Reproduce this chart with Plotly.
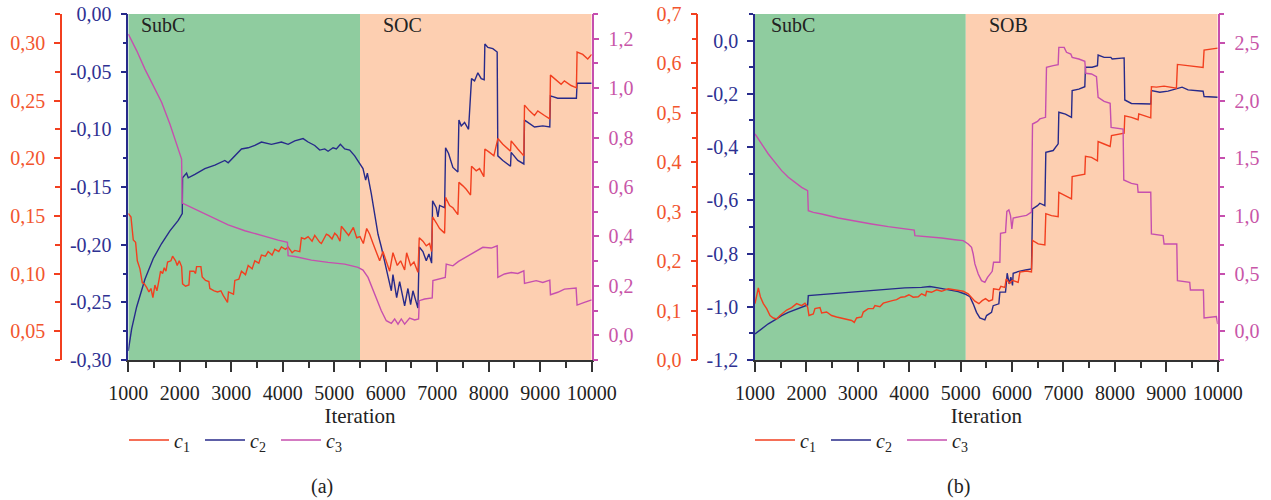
import plotly.graph_objects as go

# ---------------- data: panel (a) ----------------
xa1 = [1000,1052,1097,1142,1175,1226,1272,1310,1356,1401,
       1440,1478,1517,1556,1595,1627,1666,1698,1731,1763,
       1828,1860,1918,1950,1989,2035,2054,2112,2177,2196,
       2274,2306,2326,2410,2435,2500,2565,2584,2668,2733,
       2798,2843,2927,2946,3043,3069,3147,3198,3276,3328,
       3405,3457,3535,3586,3664,3716,3793,3845,3923,3974,
       4052,4104,4181,4233,4330,4362,4427,4492,4569,4621,
       4718,4750,4847,4893,4957,5009,5054,5112,5138,5203,
       5280,5371,5436,5500,5565,5630,5688,5753,5817,5882,
       5946,6011,6076,6140,6224,6289,6367,6406,6483,6548,
       6625,6651,6722,6787,6852,6891,6910,6981,7046,7143,
       7162,7240,7304,7401,7421,7498,7563,7647,7666,7757,
       7822,7906,7925,8016,8100,8177,8274,8423,8436,8565,
       8682,8695,8792,8889,8953,9083,9186,9199,9309,9406,
       9470,9600,9703,9716,9826,9923,10000]
c1a = [0.152,0.149,0.129,0.127,0.111,0.104,0.092,0.091,0.088,0.084,
       0.087,0.079,0.090,0.085,0.094,0.102,0.100,0.105,0.102,0.110,
       0.111,0.115,0.111,0.107,0.111,0.106,0.091,0.089,0.090,0.102,
       0.102,0.100,0.106,0.106,0.097,0.094,0.093,0.087,0.085,0.084,
       0.085,0.081,0.075,0.084,0.082,0.094,0.095,0.102,0.099,0.107,
       0.104,0.111,0.109,0.116,0.115,0.119,0.116,0.121,0.119,0.123,
       0.121,0.123,0.118,0.120,0.119,0.131,0.130,0.132,0.128,0.133,
       0.127,0.126,0.134,0.133,0.130,0.135,0.133,0.128,0.141,0.137,
       0.133,0.140,0.131,0.132,0.126,0.139,0.134,0.126,0.118,0.111,
       0.119,0.110,0.102,0.118,0.107,0.111,0.103,0.118,0.107,0.110,
       0.101,0.131,0.128,0.124,0.126,0.119,0.149,0.144,0.139,0.135,
       0.166,0.159,0.157,0.151,0.179,0.176,0.173,0.168,0.193,0.189,
       0.191,0.184,0.208,0.205,0.202,0.217,0.212,0.206,0.215,0.208,
       0.202,0.246,0.241,0.237,0.241,0.237,0.234,0.272,0.268,0.264,
       0.267,0.263,0.261,0.292,0.290,0.286,0.290]

xa2 = [1000,1065,1162,1323,1485,1647,1808,1970,2048,2054,
       2132,2164,2293,2487,2681,2875,2940,3069,3198,3328,
       3457,3586,3780,3974,4104,4233,4395,4492,4621,4718,
       4815,4880,4977,5041,5119,5203,5300,5397,5494,5558,
       5610,5643,5720,5785,5850,5914,5979,6043,6108,6140,
       6212,6270,6367,6431,6483,6528,6625,6651,6722,6787,
       6839,6891,6910,6981,7013,7046,7143,7162,7220,7304,
       7401,7421,7466,7531,7608,7666,7725,7789,7854,7912,
       7925,7983,8080,8164,8177,8274,8423,8436,8565,8682,
       8695,8760,8889,9050,9186,9199,9341,9535,9703,9716,
       10000]
c2a = [-0.292,-0.273,-0.254,-0.230,-0.212,-0.199,-0.188,-0.179,-0.173,-0.142,
       -0.138,-0.142,-0.139,-0.134,-0.131,-0.127,-0.129,-0.123,-0.117,-0.116,
       -0.114,-0.111,-0.113,-0.111,-0.113,-0.110,-0.108,-0.111,-0.114,-0.118,
       -0.117,-0.119,-0.116,-0.117,-0.113,-0.117,-0.118,-0.123,-0.130,-0.134,
       -0.144,-0.138,-0.156,-0.173,-0.191,-0.202,-0.214,-0.228,-0.240,-0.226,
       -0.246,-0.232,-0.253,-0.238,-0.252,-0.240,-0.255,-0.202,-0.206,-0.214,
       -0.208,-0.216,-0.162,-0.168,-0.176,-0.166,-0.168,-0.116,-0.121,-0.133,
       -0.137,-0.092,-0.097,-0.094,-0.100,-0.056,-0.058,-0.051,-0.056,-0.057,
       -0.026,-0.029,-0.030,-0.033,-0.123,-0.127,-0.132,-0.120,-0.127,-0.130,
       -0.092,-0.094,-0.098,-0.097,-0.098,-0.071,-0.073,-0.073,-0.073,-0.060,
       -0.060]

xa3 = [1000,1162,1323,1485,1647,1808,1970,2035,2048,2293,
       2617,2940,3263,3586,3910,4091,4104,4233,4556,4880,
       5203,5462,5558,5656,5785,5914,6011,6108,6173,6238,
       6302,6367,6464,6561,6638,6651,6755,6852,6903,6916,
       7046,7156,7175,7304,7414,7595,7757,7886,8048,8164,
       8177,8307,8436,8565,8682,8695,8921,9050,9186,9199,
       9341,9470,9697,9716,9858,10000]
c3a = [1.219,1.152,1.077,1.010,0.943,0.855,0.754,0.713,0.535,0.511,
       0.477,0.447,0.423,0.403,0.385,0.376,0.322,0.319,0.304,0.295,
       0.288,0.275,0.264,0.234,0.167,0.099,0.059,0.048,0.066,0.045,
       0.066,0.045,0.070,0.062,0.066,0.140,0.147,0.151,0.151,0.221,
       0.228,0.234,0.288,0.281,0.299,0.322,0.340,0.356,0.353,0.362,
       0.234,0.248,0.254,0.250,0.261,0.210,0.221,0.214,0.223,0.164,
       0.174,0.187,0.191,0.122,0.133,0.143]

# ---------------- data: panel (b) ----------------
xb1 = [1000,1065,1104,1162,1227,1292,1356,1421,1486,1551,
       1616,1713,1810,1907,1972,2024,2050,2134,2166,2264,
       2296,2393,2490,2588,2685,2782,2879,2931,2976,3074,
       3106,3203,3300,3333,3430,3495,3592,3670,3754,3838,
       3916,3994,4078,4175,4240,4318,4337,4434,4532,4629,
       4758,4888,5050,5147,5212,5277,5355,5419,5484,5549,
       5620,5640,5750,5782,5860,5886,5957,6003,6119,6152,
       6281,6378,6398,6508,6638,6657,6767,6897,6910,7026,
       7156,7169,7286,7415,7428,7545,7661,7674,7791,7908,
       7934,8063,8180,8193,8322,8452,8465,8582,8698,8711,
       8808,8957,9197,9217,9359,9489,9716,9735,9878,10000]
c1b = [0.114,0.146,0.128,0.114,0.104,0.090,0.085,0.083,0.090,0.095,
       0.101,0.106,0.114,0.110,0.115,0.107,0.090,0.093,0.104,0.106,
       0.095,0.097,0.090,0.087,0.085,0.083,0.080,0.076,0.085,0.087,
       0.097,0.104,0.104,0.110,0.108,0.115,0.117,0.120,0.122,0.127,
       0.128,0.132,0.127,0.128,0.134,0.130,0.139,0.137,0.142,0.139,
       0.144,0.142,0.139,0.134,0.126,0.119,0.114,0.120,0.124,0.119,
       0.122,0.144,0.142,0.149,0.147,0.164,0.155,0.161,0.157,0.178,
       0.180,0.178,0.242,0.235,0.233,0.296,0.292,0.290,0.339,0.333,
       0.326,0.371,0.373,0.376,0.412,0.410,0.403,0.442,0.437,0.432,
       0.454,0.457,0.459,0.494,0.491,0.486,0.498,0.494,0.490,0.553,
       0.552,0.554,0.550,0.598,0.596,0.594,0.592,0.627,0.629,0.631]

xb2 = [1000,1130,1259,1389,1518,1648,1778,1907,2024,2037,
       2296,2620,2944,3268,3592,3916,4240,4402,4564,4758,
       4953,5082,5180,5244,5309,5374,5471,5504,5601,5633,
       5743,5763,5873,5905,5944,5977,6009,6022,6132,6262,
       6378,6398,6495,6540,6638,6657,6800,6897,6910,7039,
       7156,7169,7299,7415,7428,7558,7661,7674,7791,7921,
       7947,8180,8193,8322,8484,8698,8711,8873,9035,9197,
       9307,9424,9716,9735,10000]
c2b = [-1.102,-1.083,-1.064,-1.049,-1.033,-1.021,-1.011,-1.002,-0.993,-0.958,
       -0.954,-0.949,-0.943,-0.937,-0.932,-0.929,-0.927,-0.924,-0.929,-0.937,
       -0.943,-0.952,-0.962,-0.989,-1.021,-1.042,-1.049,-1.033,-1.021,-0.996,
       -0.989,-0.945,-0.945,-0.874,-0.914,-0.889,-0.920,-0.874,-0.867,-0.862,
       -0.858,-0.632,-0.620,-0.611,-0.620,-0.420,-0.413,-0.388,-0.269,-0.276,
       -0.288,-0.188,-0.182,-0.173,-0.100,-0.100,-0.094,-0.054,-0.063,-0.063,
       -0.069,-0.065,-0.223,-0.236,-0.238,-0.238,-0.188,-0.194,-0.190,-0.182,
       -0.175,-0.185,-0.190,-0.210,-0.213]

xb3 = [1000,1130,1259,1389,1518,1648,1778,1907,2024,2037,
       2134,2296,2620,2944,3268,3592,3916,4097,4110,4370,
       4629,4888,5050,5147,5212,5244,5277,5342,5406,5471,
       5523,5614,5640,5763,5776,5873,5899,5938,5970,5996,
       6022,6152,6281,6378,6398,6495,6540,6651,6670,6800,
       6897,6910,7013,7059,7143,7169,7299,7415,7435,7545,
       7642,7674,7791,7908,7927,8160,8173,8322,8439,8452,
       8698,8711,8938,8957,9204,9217,9456,9469,9722,9735,
       9975,10000]
c3b = [1.710,1.623,1.536,1.464,1.392,1.334,1.291,1.247,1.218,1.045,
       1.030,1.016,0.981,0.952,0.929,0.906,0.886,0.877,0.828,0.819,
       0.808,0.793,0.785,0.756,0.727,0.669,0.583,0.496,0.438,0.424,
       0.467,0.519,0.597,0.597,0.848,0.857,1.039,1.051,1.002,0.886,
       0.981,0.993,1.004,1.033,1.796,1.819,1.840,1.854,2.288,2.302,
       2.311,2.461,2.461,2.418,2.403,2.374,2.360,2.340,2.236,2.230,
       2.207,2.028,1.993,1.975,1.767,1.753,1.311,1.282,1.270,1.204,
       1.204,0.843,0.828,0.756,0.756,0.438,0.424,0.357,0.357,0.114,
       0.126,0.062]

for xs, ys in [(xa1, c1a), (xa2, c2a), (xa3, c3a), (xb1, c1b), (xb2, c2b), (xb3, c3b)]:
    assert len(xs) == len(ys), (len(xs), len(ys))

# phases
phase_a = [1000, 5500, 10000]
phase_b = [1000, 5100, 10000]
phase_names_a = ["SubC", "SOC"]
phase_names_b = ["SubC", "SOB"]
phase_label_x_a = [1680, 6330]
phase_label_x_b = [1740, 5940]

series_names = ["<i>c</i><sub>1</sub>", "<i>c</i><sub>2</sub>", "<i>c</i><sub>3</sub>"]
blue_ticks_a = [-0.30, -0.25, -0.20, -0.15, -0.10, -0.05, 0.0]
blue_text_a = ["-0,30", "-0,25", "-0,20", "-0,15", "-0,10", "-0,05", "0,00"]
blue_ticks_b = [-1.2, -1.0, -0.8, -0.6, -0.4, -0.2, 0.0]
blue_text_b = ["-1,2", "-1,0", "-0,8", "-0,6", "-0,4", "-0,2", "0,0"]

# ---------------- style ----------------
W, H = 1271, 500
TOP, BOT = 14, 360          # plot area top / bottom in pixels
RED = "#f23f1f"
BLUE = "#272a8a"
MAG = "#c64fae"
RED_T = "#f2552e"
BLUE_T = "#2e3192"
MAG_T = "#c856a8"
GREEN_BG = "#8fcc9f"
ORANGE_BG = "#fdcfb1"
AX = "#333333"
FONT = "Liberation Serif, Times New Roman, serif"

def fx(p):
    return p / W

def fy(p):
    return (BOT - p) / (BOT - TOP)

XDOM_A = [fx(128.3), fx(591.7)]
XDOM_B = [fx(755), fx(1217.7)]

fig = go.Figure()
lw = 1.4
fig.add_trace(go.Scatter(x=xa1, y=c1a, xaxis="x", yaxis="y2", mode="lines",
                         line=dict(color=RED, width=lw), name=series_names[0], legend="legend"))
fig.add_trace(go.Scatter(x=xa2, y=c2a, xaxis="x", yaxis="y", mode="lines",
                         line=dict(color=BLUE, width=lw), name=series_names[1], legend="legend"))
fig.add_trace(go.Scatter(x=xa3, y=c3a, xaxis="x", yaxis="y3", mode="lines",
                         line=dict(color=MAG, width=lw), name=series_names[2], legend="legend"))
fig.add_trace(go.Scatter(x=xb1, y=c1b, xaxis="x2", yaxis="y5", mode="lines",
                         line=dict(color=RED, width=lw), name=series_names[0], legend="legend2"))
fig.add_trace(go.Scatter(x=xb2, y=c2b, xaxis="x2", yaxis="y4", mode="lines",
                         line=dict(color=BLUE, width=lw), name=series_names[1], legend="legend2"))
fig.add_trace(go.Scatter(x=xb3, y=c3b, xaxis="x2", yaxis="y6", mode="lines",
                         line=dict(color=MAG, width=lw), name=series_names[2], legend="legend2"))

def xaxis(domain, anchor):
    return dict(domain=domain, anchor=anchor, range=[1000, 10000], showgrid=False, zeroline=False,
                automargin=False,
                showline=True, linecolor=AX, linewidth=1.5,
                ticks="outside", ticklen=10, tickwidth=1.5, tickcolor=AX,
                tick0=1000, dtick=1000, tickformat="d", ticklabelstandoff=4,
                minor=dict(tick0=1000, dtick=500, ticks="outside", ticklen=6, tickwidth=1.5, tickcolor=AX, showgrid=False),
                tickfont=dict(family=FONT, size=20, color="#222"),
                title=dict(text="Iteration", font=dict(family=FONT, size=21, color="#222"), standoff=5))

def yax(color, tcolor, rng, **kw):
    d = dict(range=rng, showgrid=False, zeroline=False, showline=True, linecolor=color, linewidth=1.5,
             automargin=False, ticks="outside", ticklen=6, tickwidth=1.5, tickcolor=color,
             ticklabelstandoff=5,
             tickfont=dict(family=FONT, size=20, color=tcolor))
    d.update(kw)
    return d

def inner_ticks(color, rng, overlay, anchor, vals, minor_dtick):
    # second copy of the blue axis drawing the inner half of its crossing ticks
    return dict(range=rng, overlaying=overlay, anchor=anchor, side="left", showgrid=False, zeroline=False,
                showline=False, automargin=False, showticklabels=False,
                tickmode="array", tickvals=vals, ticks="inside", ticklen=6, tickwidth=1.5, tickcolor=color,
                minor=dict(tickmode="linear", tick0=rng[0], dtick=minor_dtick, ticks="inside", ticklen=4,
                           tickwidth=1.5, tickcolor=color))

fig.update_layout(
    width=W, height=H, margin=dict(l=0, r=0, t=TOP, b=H - BOT, autoexpand=False),
    paper_bgcolor="white", plot_bgcolor="rgba(0,0,0,0)",
    separators=",.",
    font=dict(family=FONT, size=20, color="#222"),
    xaxis=xaxis(XDOM_A, "y"),
    xaxis2=xaxis(XDOM_B, "y4"),
    yaxis=yax(BLUE, BLUE_T, [-0.30, 0.0], domain=[0, 1], anchor="x", side="left",
              tickmode="array", tickvals=blue_ticks_a, ticktext=blue_text_a,
              minor=dict(tickmode="linear", tick0=-0.3, dtick=0.025, ticks="outside", ticklen=4, tickwidth=1.5, tickcolor=BLUE)),
    yaxis2=yax(RED, RED_T, [0.025, 0.325], overlaying="y", anchor="free", position=fx(61), side="left",
               tick0=0.05, dtick=0.05, tickformat=".2f",
               minor=dict(tick0=0.025, dtick=0.025, ticks="outside", ticklen=5, tickwidth=1.5, tickcolor=RED)),
    yaxis3=yax(MAG, MAG_T, [-0.1, 1.3], overlaying="y", anchor="x", side="right",
               tick0=0, dtick=0.2, tickformat=".1f", ticklabelstandoff=5,
               minor=dict(tick0=0, dtick=0.1, ticks="outside", ticklen=5, tickwidth=1.5, tickcolor=MAG)),
    yaxis4=yax(BLUE, BLUE_T, [-1.2, 0.1], domain=[0, 1], anchor="x2", side="left",
               tickmode="array", tickvals=blue_ticks_b, ticktext=blue_text_b,
               minor=dict(tickmode="linear", tick0=-1.2, dtick=0.1, ticks="outside", ticklen=4, tickwidth=1.5, tickcolor=BLUE)),
    yaxis5=yax(RED, RED_T, [0.0, 0.7], overlaying="y4", anchor="free", position=fx(697.3), side="left",
               tick0=0, dtick=0.1, tickformat=".1f",
               minor=dict(tick0=0, dtick=0.05, ticks="outside", ticklen=5, tickwidth=1.5, tickcolor=RED)),
    yaxis6=yax(MAG, MAG_T, [-0.25, 2.75], overlaying="y4", anchor="x2", side="right",
               tick0=0, dtick=0.5, tickformat=".1f", ticklabelstandoff=5,
               minor=dict(tick0=-0.25, dtick=0.25, ticks="outside", ticklen=5, tickwidth=1.5, tickcolor=MAG)),
    yaxis7=inner_ticks(BLUE, [-0.30, 0.0], "y", "x", blue_ticks_a, 0.025),
    yaxis8=inner_ticks(BLUE, [-1.2, 0.1], "y4", "x2", blue_ticks_b, 0.1),
    legend=dict(orientation="h", x=fx(124), xanchor="left", y=fy(440), yanchor="middle",
                font=dict(family=FONT, size=20, color="#222"), bgcolor="rgba(0,0,0,0)",
                entrywidth=21, entrywidthmode="pixels", itemwidth=40),
    legend2=dict(orientation="h", x=fx(750), xanchor="left", y=fy(440), yanchor="middle",
                 font=dict(family=FONT, size=20, color="#222"), bgcolor="rgba(0,0,0,0)",
                 entrywidth=21, entrywidthmode="pixels", itemwidth=40),
    showlegend=True,
)

shapes = []
annotations = []
bg_colors = [GREEN_BG, ORANGE_BG]
for phases, names, lx, xr, yr in [(phase_a, phase_names_a, phase_label_x_a, "x", "y"),
                                   (phase_b, phase_names_b, phase_label_x_b, "x2", "y4")]:
    for i in range(2):
        shapes.append(dict(type="rect", xref=xr, yref=yr + " domain", x0=phases[i], x1=phases[i + 1],
                           y0=0, y1=1, fillcolor=bg_colors[i], line=dict(width=0), layer="below"))
        annotations.append(dict(text=names[i], xref=xr, yref="paper", x=lx[i], y=fy(25),
                                showarrow=False, font=dict(family=FONT, size=20, color="#222"),
                                xanchor="center", yanchor="middle"))

annotations.append(dict(text="(a)", xref="paper", yref="paper", x=fx(322), y=fy(487), showarrow=False,
                        font=dict(family=FONT, size=20, color="#222"), xanchor="center", yanchor="middle"))
annotations.append(dict(text="(b)", xref="paper", yref="paper", x=fx(958), y=fy(487), showarrow=False,
                        font=dict(family=FONT, size=20, color="#222"), xanchor="center", yanchor="middle"))

fig.update_layout(shapes=shapes, annotations=annotations)
fig.write_html("out.html")
